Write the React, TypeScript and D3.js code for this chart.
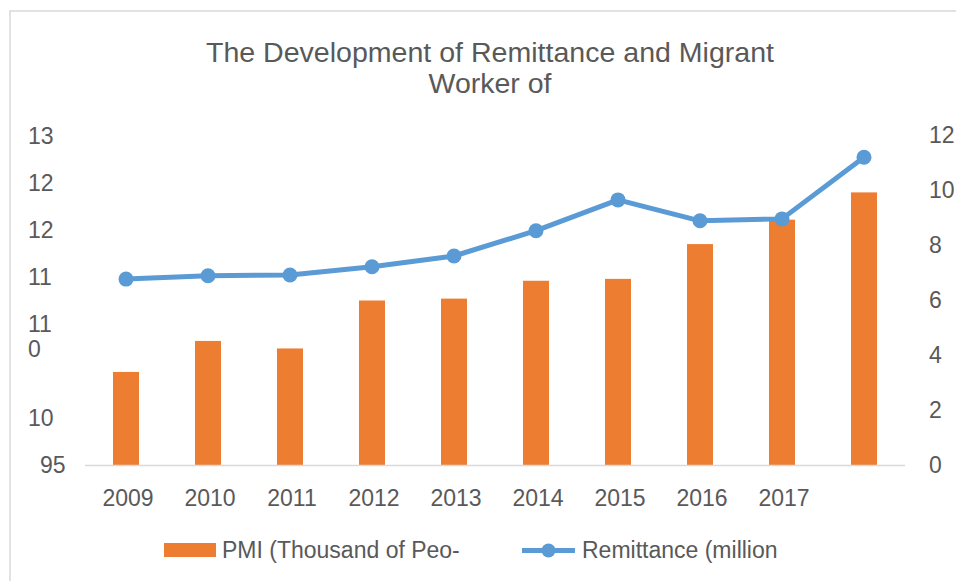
import React from "react";
import * as d3 from "d3";

const categories = ["2009", "2010", "2011", "2012", "2013", "2014", "2015", "2016", "2017", "2018"];
const xTickLabels = ["2009", "2010", "2011", "2012", "2013", "2014", "2015", "2016", "2017", ""];
const pmiValues = [104.9, 108.2, 107.4, 112.5, 112.7, 114.6, 114.8, 118.5, 121.1, 124.0];
const remittanceValues = [6.76, 6.88, 6.91, 7.21, 7.6, 8.52, 9.64, 8.88, 8.95, 11.19];
const leftTickValues = [95, 100, 105, 110, 115, 120, 125, 130];
const leftTickLabels = ["95", "10", "", "11\n0", "11", "12", "12", "13"];
const rightTickValues = [0, 2, 4, 6, 8, 10, 12];
const titleLines = ["The Development of Remittance and Migrant", "Worker of"];
const legendLabels = ["PMI (Thousand of Peo-", "Remittance (million"];

const W = 956;
const H = 581;
const FONT = "'Liberation Sans', Arial, Helvetica, sans-serif";
const TEXT = "#595959";
const ORANGE = "#ED7D31";
const BLUE = "#5B9BD5";

export default function App() {
  const x = d3
    .scaleBand<string>()
    .domain(categories)
    .range([85, 905])
    .paddingInner(0.683)
    .paddingOuter(0.3415);
  const yL = d3.scaleLinear().domain([95, 130]).range([465, 136]);
  const yR = d3.scaleLinear().domain([0, 12]).range([465, 135]);
  const cx = (c: string) => (x(c) as number) + x.bandwidth() / 2;

  const line = d3
    .line<number>()
    .x((_, i) => cx(categories[i]))
    .y((d) => yR(d));

  return (
    <svg
      width={W}
      height={H}
      style={{ position: "absolute", left: 0, top: 0, background: "#fff" }}
      fontFamily={FONT}
    >
      <rect x={0} y={0} width={W} height={H} fill="#fff" />
      <rect x={10} y={11} width={W + 20} height={H + 20} fill="none" stroke="#d9d9d9" strokeWidth={1.5} />

      {titleLines.map((t, i) => (
        <text
          key={t}
          x={490}
          y={61.5 + i * 31}
          textAnchor="middle"
          fontSize={27.5}
          fill={TEXT}
          textLength={i === 0 ? 568 : 123}
          lengthAdjust="spacingAndGlyphs"
        >
          {t}
        </text>
      ))}

      {/* left axis labels */}
      {leftTickValues.map((v, i) => {
        const lines = leftTickLabels[i].split("\n");
        const xPos = v >= 100 ? 28 : 40;
        return (
          <text key={v} x={xPos} y={yL(v) + 8} fontSize={23} fill={TEXT}>
            {lines.map((l, j) => (
              <tspan key={j} x={xPos} dy={j === 0 ? 0 : 25}>
                {l}
              </tspan>
            ))}
          </text>
        );
      })}

      {/* right axis labels */}
      {rightTickValues.map((v) => (
        <text key={v} x={929} y={yR(v) + 8} fontSize={23} fill={TEXT}>
          {v}
        </text>
      ))}

      {/* bars */}
      {categories.map((c, i) => (
        <rect
          key={c}
          x={x(c)}
          y={yL(pmiValues[i])}
          width={x.bandwidth()}
          height={yL(95) - yL(pmiValues[i])}
          fill={ORANGE}
        />
      ))}

      {/* baseline */}
      <line x1={85} x2={905} y1={465.5} y2={465.5} stroke="#d9d9d9" strokeWidth={1.5} />

      {/* x labels */}
      {categories.map((c, i) => (
        <text key={c} x={cx(c) + 2} y={506} textAnchor="middle" fontSize={23} fill={TEXT}>
          {xTickLabels[i]}
        </text>
      ))}

      {/* line */}
      <path d={line(remittanceValues) || ""} fill="none" stroke={BLUE} strokeWidth={5} strokeLinejoin="round" />
      {remittanceValues.map((v, i) => (
        <circle key={i} cx={cx(categories[i])} cy={yR(v)} r={7.5} fill={BLUE} />
      ))}

      {/* legend */}
      <rect x={164} y={543} width={52} height={14} fill={ORANGE} />
      <text x={222} y={557.5} fontSize={23} fill={TEXT}>
        {legendLabels[0]}
      </text>
      <line x1={522} x2={575} y1={550.5} y2={550.5} stroke={BLUE} strokeWidth={5} />
      <circle cx={548.5} cy={550.5} r={7} fill={BLUE} />
      <text x={582} y={557.5} fontSize={23} fill={TEXT}>
        {legendLabels[1]}
      </text>
    </svg>
  );
}
